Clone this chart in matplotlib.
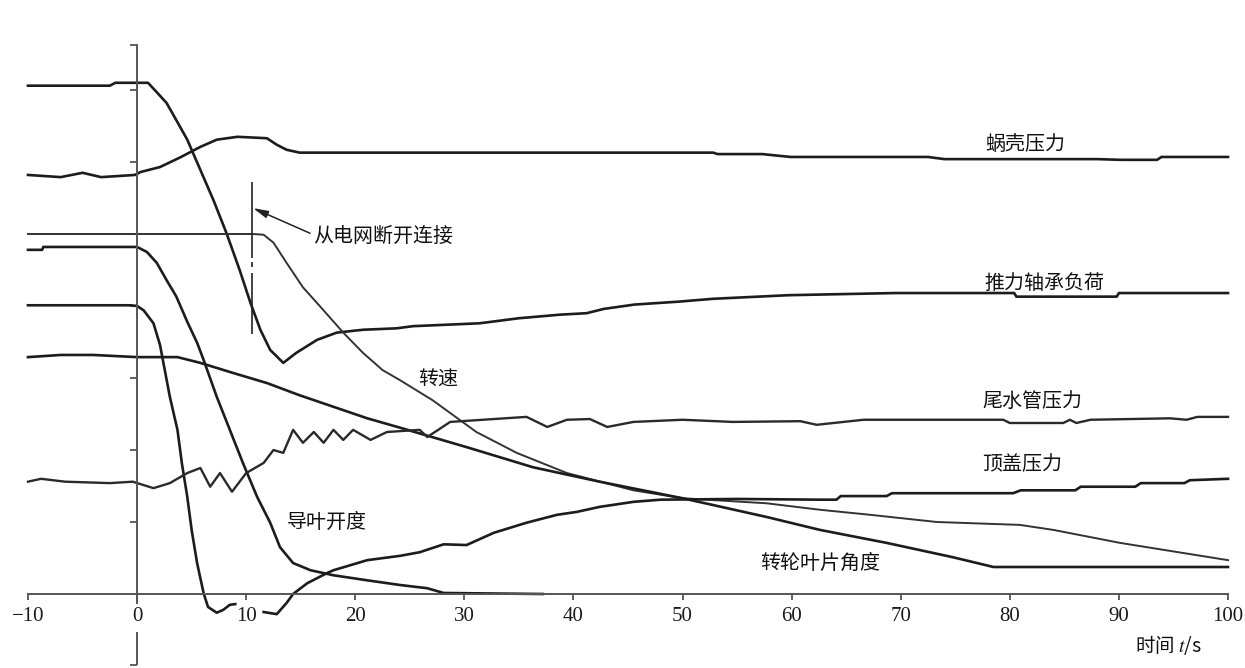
import numpy as np
import matplotlib
matplotlib.use("Agg")
import matplotlib.pyplot as plt

plt.rcParams['font.family'] = ['Noto Sans CJK SC', 'DejaVu Sans']
plt.rcParams['mathtext.fontset'] = 'stix'

# ---------------- data (time in s, value in y-tick units) ----------------
thrust_t = [-10, -2.5, -2.0, 1.0, 1.8, 2.7, 3.6, 4.6, 5.8, 7.0, 8.2, 9.4, 10.4, 11.3, 12.2, 13.4,
            14.6, 16.5, 18.3, 20.7, 23.8, 25.3, 28.4, 31.4, 35.0, 38.8, 41.2, 42.8, 45.6, 49.6,
            52.8, 59.7, 69.5, 80.4, 80.6, 89.8, 90.0, 100]
thrust_v = [7.06, 7.06, 7.10, 7.10, 6.97, 6.82, 6.58, 6.31, 5.89, 5.47, 5.01, 4.50, 4.04, 3.67, 3.39, 3.21,
            3.35, 3.53, 3.63, 3.67, 3.69, 3.72, 3.74, 3.76, 3.83, 3.88, 3.90, 3.96, 4.02, 4.06,
            4.10, 4.15, 4.18, 4.18, 4.13, 4.13, 4.18, 4.18]

spiral_t = [-10, -7, -5, -3.3, -0.2, 0.3, 2.1, 3.9, 5.8, 7.3, 9.2, 11.9, 12.8, 13.7, 14.9,
            52.8, 53.2, 57.3, 59.9, 72.5, 74.0, 88.0, 90.2, 93.5, 93.9, 100]
spiral_v = [5.82, 5.79, 5.85, 5.79, 5.82, 5.86, 5.93, 6.06, 6.21, 6.31, 6.35, 6.33, 6.24, 6.17, 6.13,
            6.13, 6.11, 6.11, 6.07, 6.07, 6.04, 6.04, 6.03, 6.03, 6.07, 6.07]

speed_t = [-10, 10.6, 11.6, 12.5, 13.7, 15.2, 16.8, 18.9, 20.7, 22.5, 24.1, 27.1, 31.1, 34.8,
           39.4, 45.5, 50.0, 57.7, 62.6, 67.2, 73.3, 80.9, 84.0, 90.1, 100]
speed_v = [5.00, 5.00, 4.99, 4.88, 4.60, 4.26, 3.99, 3.63, 3.35, 3.11, 2.97, 2.69, 2.25, 1.96,
           1.68, 1.44, 1.33, 1.26, 1.17, 1.10, 1.00, 0.96, 0.89, 0.71, 0.47]

vane_t = [-10, -8.7, -8.6, 0, 0.9, 1.8, 2.7, 3.6, 4.6, 5.5, 6.1, 7.3, 8.5, 9.7, 11.0, 12.2,
          13.1, 14.3, 15.9, 18.0, 21.1, 24.1, 26.6, 28.1, 37.2]
vane_v = [4.78, 4.78, 4.82, 4.82, 4.75, 4.60, 4.36, 4.13, 3.78, 3.49, 3.25, 2.74, 2.28, 1.82, 1.35, 0.99,
          0.65, 0.43, 0.33, 0.26, 0.19, 0.125, 0.08, 0.014, 0.0]

cover_t = [-10, -0.6, 0, 0.6, 1.5, 2.1, 3.0, 3.7, 4.1, 4.6, 5.0, 5.5, 6.1, 6.5, 7.3, 7.9, 8.5, 9.0,
           10.2,
           11.6, 12.8, 13.7, 14.3, 15.6, 17.4, 18.0, 21.1, 24.1, 25.9, 28.1, 30.2, 32.7, 35.7, 38.5,
           40.3, 42.4, 45.5, 48.0, 55.0, 62.6, 64.1, 64.5, 68.7, 69.2, 80.3, 81.0, 86.0, 86.5,
           91.5, 92.0, 96.0, 96.5, 100]
cover_v = [4.01, 4.01, 4.00, 3.94, 3.76, 3.46, 2.74, 2.28, 1.82, 1.35, 0.89, 0.43, 0.01, -0.18, -0.26,
           -0.22, -0.15, -0.14,
           np.nan,
           -0.25, -0.28, -0.125, 0.0, 0.15, 0.29, 0.33, 0.47, 0.53, 0.58, 0.69, 0.68, 0.85, 0.99, 1.10,
           1.14, 1.21, 1.28, 1.31, 1.32, 1.31, 1.31, 1.36, 1.36, 1.40, 1.40, 1.44, 1.44, 1.49,
           1.49, 1.54, 1.54, 1.58, 1.60]

blade_t = [-10, -7, -4, 0, 3.7, 5.8, 8.8, 11.9, 14.9, 18.0, 21.1, 24.1, 30.2, 36.3, 42.4, 50.0,
           57.7, 62.6, 68.7, 74.8, 78.5, 100]
blade_v = [3.29, 3.32, 3.32, 3.29, 3.29, 3.21, 3.07, 2.93, 2.76, 2.60, 2.44, 2.31, 2.04, 1.76, 1.56, 1.33,
           1.07, 0.89, 0.71, 0.51, 0.375, 0.375]

draft_t = [-10, -8.8, -6.6, -2.5, -0.4, 1.5, 3.0, 4.6, 5.8, 6.7, 7.6, 8.7, 10.0, 11.6, 12.5, 13.4,
           14.3, 15.2, 16.2, 17.1, 18.0, 18.9, 19.8, 21.4, 22.9, 25.9, 26.6, 28.7, 35.7, 37.6, 39.4,
           41.5, 43.1, 45.5, 50.0, 54.6, 60.8, 62.3, 66.6, 79.4, 80.0, 84.9, 85.5, 86.1, 87.4, 94.7,
           96.2, 97.2, 100]
draft_v = [1.56, 1.60, 1.56, 1.54, 1.56, 1.47, 1.54, 1.68, 1.75, 1.49, 1.68, 1.42, 1.68, 1.82, 2.00, 1.96,
           2.28, 2.10, 2.25, 2.10, 2.28, 2.14, 2.28, 2.14, 2.25, 2.28, 2.18, 2.39, 2.46, 2.32, 2.42,
           2.43, 2.32, 2.39, 2.42, 2.39, 2.40, 2.35, 2.42, 2.42, 2.375, 2.375, 2.42, 2.375, 2.42, 2.44,
           2.42, 2.46, 2.46]

x_ticks = [-10, 0, 10, 20, 30, 40, 50, 60, 70, 80, 90, 100]
x_tick_labels = ['\u221210', '0', '10', '20', '30', '40', '50', '60', '70', '80', '90', '100']
y_ticks = [1, 2, 3, 4, 5, 6, 7, 7.625, -0.986]

# disconnection marker (time, value segments) and annotation
event_t = 10.5
event_segments = [(5.72, 4.67), (4.61, 4.54), (4.46, 3.61)]
arrow_tip = (10.62, 5.36)
arrow_tail = (15.86, 5.01)

labels = [
    ('蜗壳压力', 77.7, 6.24),
    ('从电网断开连接', 16.15, 4.96),
    ('推力轴承负荷', 77.7, 4.32),
    ('转速', 25.75, 2.97),
    ('尾水管压力', 77.5, 2.67),
    ('顶盖压力', 77.5, 1.79),
    ('导叶开度', 13.74, 0.99),
    ('转轮叶片角度', 57.1, 0.43),
]

# ---------------- figure ----------------
fig = plt.figure(figsize=(12.45, 6.68), dpi=100)
ax = fig.add_axes([0, 0, 1, 1])
ax.set_xlim(-12.567, 101.558)
ax.set_ylim(-1.0278, 8.25)

axis_col = '#555555'
line_col = '#1c1c1c'

for s in ['top', 'right']:
    ax.spines[s].set_visible(False)
ax.spines['left'].set_position(('data', 0))
ax.spines['bottom'].set_position(('data', 0))
ax.spines['left'].set_bounds(-0.125, 7.625)
ax.spines['bottom'].set_bounds(-10, 100)
for s in ['left', 'bottom']:
    ax.spines[s].set_color(axis_col)
    ax.spines[s].set_linewidth(1.4)

ax.set_xticks(x_ticks)
ax.set_xticklabels(x_tick_labels, fontfamily='Liberation Serif', fontsize=15, color='#1a1a1a')
ax.tick_params(axis='x', direction='out', length=4.5, width=1.3, color=axis_col, pad=5)
ax.set_yticks(y_ticks)
ax.set_yticklabels([''] * len(y_ticks))
ax.tick_params(axis='y', direction='out', length=5, width=1.3, color=axis_col)

# lower extension of the y-axis (below the "0" label)
ax.plot([0, 0], [-0.53, -0.986], color=axis_col, lw=1.4, solid_capstyle='butt')

kw = dict(color=line_col, lw=1.9, solid_joinstyle='round')
ax.plot(thrust_t, thrust_v, **kw)
ax.plot(spiral_t, spiral_v, **kw)
ax.plot(speed_t, speed_v, color='#333333', lw=1.4)
ax.plot(vane_t, vane_v, **kw)
ax.plot(cover_t, cover_v, **kw)
ax.plot(blade_t, blade_v, **kw)
ax.plot(draft_t, draft_v, color='#2a2a2a', lw=1.7)

for top, bot in event_segments:
    ax.plot([event_t, event_t], [top, bot], color='#222222', lw=1.2, solid_capstyle='butt')

ax.annotate('', xy=arrow_tip, xytext=arrow_tail,
            arrowprops=dict(arrowstyle='-|>,head_length=0.9,head_width=0.22',
                            color='#222222', lw=1.1, shrinkA=0, shrinkB=0))

for txt, tx, ty in labels:
    ax.text(tx, ty, txt, fontsize=14.4, ha='left', va='center', color='#111111',
            fontweight='medium')

ax.text(91.5, -0.71, '时间 $t$/s', fontsize=14, ha='left', va='center', color='#111111',
        fontweight='medium')

fig.savefig('out.png', dpi=100)
